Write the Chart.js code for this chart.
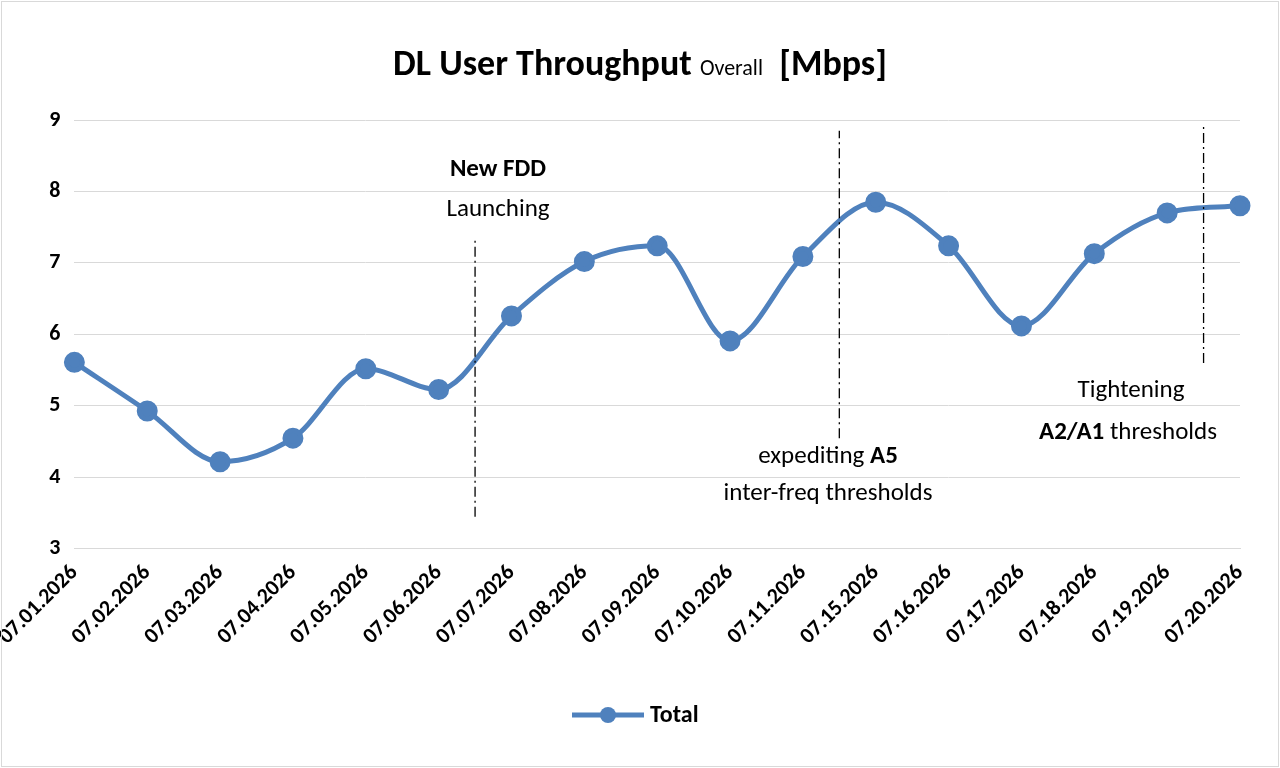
<!DOCTYPE html><html><head><script src="https://cdn.jsdelivr.net/npm/chart.js@4"></script>
<style>body{margin:0;background:#fff}#w{width:1280px;height:768px}</style></head><body><div id="w"><canvas id="c"></canvas></div>
<script>
const categories=["07.01.2026","07.02.2026","07.03.2026","07.04.2026","07.05.2026","07.06.2026","07.07.2026","07.08.2026","07.09.2026","07.10.2026","07.11.2026","07.15.2026","07.16.2026","07.17.2026","07.18.2026","07.19.2026","07.20.2026"];
const totalValues=[5.61,4.93,4.22,4.55,5.52,5.23,6.26,7.02,7.24,5.91,7.09,7.85,7.24,6.12,7.13,7.70,7.80];
const markers=[{pos:5.5,y1:3.45,y2:7.35},{pos:10.5,y1:4.55,y2:8.85},{pos:15.5,y1:5.6,y2:8.95}];
const F="Calibri, Carlito, 'Open Sans', sans-serif";
const C="#4f81bd";
const deco={id:'deco',afterDraw(ch){const x=ch.ctx,xs=ch.scales.x,ys=ch.scales.y;x.save();
x.strokeStyle='#d9d9d9';x.lineWidth=1;x.strokeRect(1.5,1.5,1277,765);
x.fillStyle='#000';x.textBaseline='alphabetic';
const p1='DL User Throughput ',p2='Overall',p3='  [Mbps]';
x.font='bold 36px '+F;const w1=x.measureText(p1).width,w3=x.measureText(p3).width;x.font='22px '+F;const w2=x.measureText(p2).width;
let sx=640-(w1+w2+w3)/2;x.font='bold 36px '+F;x.textAlign='left';x.fillText(p1,sx,75);x.font='22px '+F;x.fillText(p2,sx+w1,75);x.font='bold 36px '+F;x.fillText(p3,sx+w1+w2,75);
x.strokeStyle='#000';x.lineWidth=1.3;x.setLineDash([10,4,2,4]);
markers.forEach(m=>{const px=xs.getPixelForValue(m.pos);x.beginPath();x.moveTo(px,ys.getPixelForValue(m.y1));x.lineTo(px,ys.getPixelForValue(m.y2));x.stroke();});
x.setLineDash([]);
const txt=(parts,cx,y)=>{let w=0;parts.forEach(p=>{x.font=(p[1]?'bold ':'')+'25px '+F;w+=x.measureText(p[0]).width;});let s=cx-w/2;x.textAlign='left';parts.forEach(p=>{x.font=(p[1]?'bold ':'')+'25px '+F;x.fillText(p[0],s,y);s+=x.measureText(p[0]).width;});};
txt([['New FDD',1]],498,176);txt([['Launching',0]],498,216);
txt([['expediting ',0],['A5',1]],828,463);txt([['inter-freq thresholds',0]],828,500);
txt([['Tightening',0]],1131,397);txt([['A2/A1',1],[' thresholds',0]],1128,439);
x.strokeStyle=C;x.lineWidth=5;x.beginPath();x.moveTo(572,715);x.lineTo(644,715);x.stroke();
x.fillStyle=C;x.beginPath();x.arc(608,715,8,0,7);x.fill();
x.fillStyle='#000';x.font='bold 24px '+F;x.textBaseline='middle';x.fillText('Total',650,716);
x.restore();}};
new Chart(document.getElementById('c'),{type:'line',data:{labels:categories,datasets:[{label:'Total',data:totalValues,borderColor:C,backgroundColor:C,borderWidth:5,cubicInterpolationMode:'monotone',pointRadius:8,pointHoverRadius:8}]},
options:{responsive:true,maintainAspectRatio:false,animation:false,layout:{padding:{top:120,left:20,right:40,bottom:115}},
plugins:{legend:{display:false},tooltip:{enabled:false}},
scales:{x:{grid:{display:false},border:{color:'#d9d9d9'},ticks:{color:'#000',maxRotation:45,minRotation:45,font:{family:F,size:22,weight:'bold'}}},
y:{min:3,max:9,ticks:{stepSize:1,color:'#000',padding:14,font:{family:F,size:22,weight:'bold'}},grid:{color:'#d9d9d9',drawTicks:false},border:{display:false}}}},plugins:[deco]});
</script></body></html>
